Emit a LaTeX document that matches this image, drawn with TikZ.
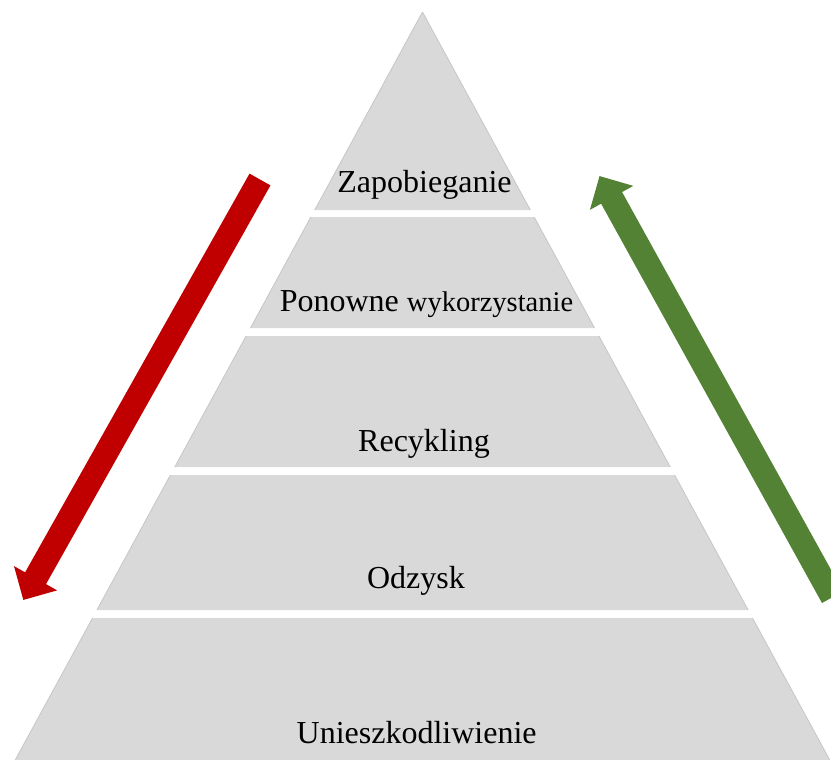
\documentclass[tikz,border=0pt]{standalone}
\usepackage{fontspec}
\setmainfont{Liberation Serif}
\usetikzlibrary{arrows.meta}
\definecolor{bandgray}{HTML}{D9D9D9}
\definecolor{edgegray}{HTML}{C6C6C6}
\definecolor{downred}{HTML}{C00000}
\definecolor{upgreen}{HTML}{548235}
\tikzset{
  bandfill/.style={fill=bandgray, draw=none},
  bandedge/.style={draw=edgegray, line width=0.8pt},
  lvl/.style={anchor=base, inner sep=0pt, text=black, font=\fontsize{32}{38}\selectfont},
  bigarrow/.style={line width=24pt, line cap=butt, -{Triangle[width=48pt,length=25pt]}},
}
\begin{document}
\begin{tikzpicture}[x=1pt,y=-1pt]
\useasboundingbox (0,0) rectangle (831,760);
% bands: top y, bottom y (apex 422.5,12 ; slope 0.5445)
\foreach \t/\b in {12/210, 217/328, 336/467, 475/610, 618/760}{
  \pgfmathsetmacro{\ht}{(\t-12)*0.5445}
  \pgfmathsetmacro{\hb}{(\b-12)*0.5445}
  \fill[bandfill] ({422.5-\ht},\t) -- ({422.5+\ht},\t) -- ({422.5+\hb},\b) -- ({422.5-\hb},\b) -- cycle;
  \draw[bandedge] ({422.5-\ht},\t) -- ({422.5-\hb},\b);
  \draw[bandedge] ({422.5+\ht},\t) -- ({422.5+\hb},\b);
}
\node[lvl] (zap) at (424.5,192) {Zapobieganie};
\node[lvl] (pon) at (426.5,311) {Ponowne {\fontsize{28.5}{34}\selectfont wykorzystanie}};
\node[lvl] (rec) at (424,451) {Recykling};
\node[lvl] (odz) at (416,588) {Odzysk};
\node[lvl] (uni) at (416.7,743) {Unieszkodliwienie};
% arrows
\coordinate (rs) at (260,179.5);
\coordinate (re) at (23.3,600);
\coordinate (gs) at (832.5,597.2);
\coordinate (ge) at (599.5,176);
\draw[bigarrow, downred] (rs) -- (re);
\draw[bigarrow, upgreen] (gs) -- (ge);
\end{tikzpicture}
\end{document}
